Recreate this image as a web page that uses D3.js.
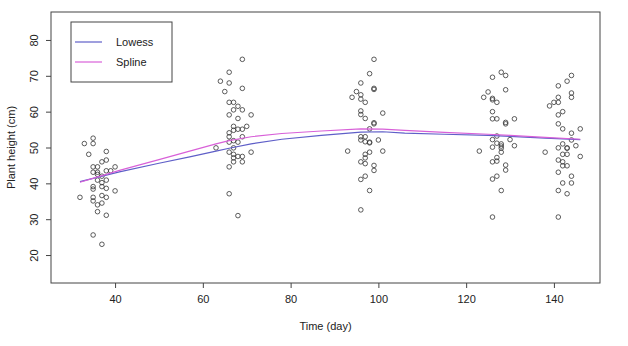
<!DOCTYPE html>
<html>
<head>
<meta charset="utf-8">
<script src="https://cdn.jsdelivr.net/npm/d3@7"></script>
<style>
  body { margin: 0; background: #fff; }
  svg { font-family: "Liberation Sans", Arial, sans-serif; }
</style>
</head>
<body>
<svg width="628" height="346"></svg>
<script>
// plot region (R style box)
const margin = { top: 12, right: 28, bottom: 63, left: 51 };
const width = 628 - margin.left - margin.right;
const height = 346 - margin.top - margin.bottom;

// observed points: day and plant height (cm), per sampling cluster
const days1 = [35, 33, 35, 34, 38, 37, 38, 35, 36, 40, 35, 36, 38, 39, 36, 37, 36, 37, 35, 35, 38, 37, 38, 40, 32, 35, 37, 38, 35, 37, 36, 36, 38, 35, 37];
const height1 = [52.6, 51.1, 51.1, 48.1, 48.9, 46.0, 46.5, 44.6, 44.6, 44.6, 43.1, 43.1, 43.5, 43.5, 42.5, 42.0, 40.9, 40.2, 39.1, 38.4, 40.9, 39.1, 38.6, 37.9, 36.1, 36.1, 36.6, 36.1, 35.1, 34.5, 34.0, 32.1, 31.1, 25.6, 23.0];

const days2 = [69, 66, 64, 66, 65, 69, 66, 67, 68, 67, 69, 66, 71, 68, 67, 70, 67, 68, 69, 66, 66, 69, 67, 66, 68, 63, 67, 66, 71, 67, 68, 69, 67, 67, 69, 66, 66, 68];
const height2 = [74.6, 71.0, 68.5, 68.0, 65.6, 66.5, 62.6, 62.6, 61.5, 60.5, 60.5, 59.1, 59.1, 58.1, 55.9, 55.9, 54.8, 55.1, 55.1, 54.1, 53.0, 53.0, 51.9, 51.5, 51.5, 49.9, 49.9, 48.7, 48.7, 48.1, 47.5, 47.5, 47.1, 46.0, 46.0, 44.6, 37.1, 31.0];

const days3 = [99, 98, 96, 99, 99, 95, 96, 94, 96, 97, 96, 101, 96, 97, 99, 99, 98, 96, 97, 96, 97, 98, 98, 100, 93, 98, 101, 97, 97, 96, 97, 99, 99, 97, 96, 98, 96];
const height3 = [74.6, 70.6, 68.0, 66.5, 66.2, 65.6, 64.7, 64.0, 63.5, 62.6, 60.2, 59.6, 59.2, 58.1, 56.9, 56.6, 55.2, 53.0, 53.0, 52.1, 51.6, 51.5, 51.3, 52.1, 49.0, 48.7, 49.0, 48.1, 47.1, 46.0, 45.5, 45.0, 43.6, 42.0, 41.1, 38.0, 32.6];

const days4 = [128, 129, 126, 129, 125, 124, 126, 126, 127, 126, 126, 127, 129, 129, 131, 127, 126, 130, 127, 128, 128, 128, 126, 131, 123, 128, 127, 126, 127, 129, 129, 127, 126, 128, 126];
const height4 = [71.0, 70.1, 69.6, 66.1, 65.5, 64.0, 63.7, 63.3, 62.6, 60.0, 58.0, 58.0, 57.0, 56.6, 58.0, 53.2, 52.2, 52.2, 51.2, 51.0, 50.4, 49.8, 50.1, 50.5, 49.0, 48.7, 47.2, 46.0, 46.2, 45.1, 43.7, 42.0, 41.2, 38.0, 30.6];

const days5 = [144, 143, 141, 144, 144, 141, 141, 140, 139, 142, 141, 141, 142, 146, 144, 144, 142, 145, 141, 143, 143, 138, 142, 143, 146, 141, 142, 142, 143, 141, 144, 142, 144, 141, 143, 141];
const height5 = [70.1, 68.5, 67.2, 65.2, 64.0, 64.0, 62.6, 62.6, 61.6, 60.0, 59.1, 56.6, 55.2, 55.2, 54.0, 52.1, 51.0, 50.5, 49.9, 49.9, 49.8, 48.7, 48.1, 48.1, 47.5, 46.5, 46.0, 44.9, 44.9, 43.1, 42.0, 40.1, 40.1, 38.0, 37.1, 30.6];

// fitted curves
const fitDays = [32, 41, 50, 57, 63, 66, 71, 78, 87, 96, 101, 106, 115, 125, 130, 138, 146];
const lowess = [40.5, 43.2, 45.6, 47.4, 49.0, 49.8, 51.0, 52.3, 53.4, 54.3, 54.4, 54.0, 53.7, 53.4, 53.1, 52.6, 52.2];
const spline = [40.3, 43.6, 46.6, 49.0, 51.0, 51.9, 53.0, 53.9, 54.6, 55.2, 55.1, 54.8, 54.2, 53.7, 53.4, 52.8, 52.3];

const xTicks = [40, 60, 80, 100, 120, 140];
const yTicks = [20, 30, 40, 50, 60, 70, 80];
const legendNames = ["Lowess", "Spline"];
const lineColors = ["#5f5fc8", "#d860d8"];

const allDays = days1.concat(days2, days3, days4, days5);
const allHeights = height1.concat(height2, height3, height4, height5);
const points = allDays.map((d, i) => ({ day: d, h: allHeights[i] }));

const x = d3.scaleLinear().domain([25.4, 150.5]).range([0, width]);
const y = d3.scaleLinear().domain([12.2, 87.8]).range([height, 0]);

const svg = d3.select('svg');
const chart = svg.append('g')
    .attr('transform', 'translate(' + margin.left + ',' + margin.top + ')');

// points
chart.selectAll('circle.pt')
    .data(points).enter()
    .append('circle')
    .attr('class', 'pt')
    .attr('cx', d => x(d.day))
    .attr('cy', d => y(d.h))
    .attr('r', 2.3)
    .attr('fill', 'none')
    .attr('stroke', '#333')
    .attr('stroke-width', 0.8);

// fitted lines
const line = d3.line().x(d => x(d[0])).y(d => y(d[1]));
[lowess, spline].forEach(function (vals, i) {
    chart.append('path')
        .datum(fitDays.map((d, j) => [d, vals[j]]))
        .attr('fill', 'none')
        .attr('stroke', lineColors[i])
        .attr('stroke-width', 1.2)
        .attr('d', line);
});

// axes
const xAxis = d3.axisBottom(x).tickValues(xTicks).tickSize(5).tickPadding(7);
const yAxis = d3.axisLeft(y).tickValues(yTicks).tickSize(5).tickPadding(6);

const gx = chart.append('g').attr('transform', 'translate(0,' + height + ')').call(xAxis);
const gy = chart.append('g').call(yAxis);
[gx, gy].forEach(function (g) {
    g.select('.domain').remove();
    g.selectAll('line').attr('stroke', '#444');
    g.selectAll('text').attr('fill', '#222').style('font-size', '11px')
        .style('font-family', '"Liberation Sans", Arial, sans-serif');
});
// R draws y labels parallel to the axis
gy.selectAll('text')
    .attr('text-anchor', 'middle')
    .attr('transform', 'translate(-17,0) rotate(-90)')
    .attr('x', 0).attr('y', 0).attr('dy', '0.35em');

// box
chart.append('rect')
    .attr('width', width)
    .attr('height', height)
    .attr('fill', 'none')
    .attr('stroke', '#444')
    .attr('stroke-width', 1);

// axis titles
svg.append('text')
    .attr('x', margin.left + width / 2)
    .attr('y', 330)
    .attr('text-anchor', 'middle')
    .style('font-size', '11px')
    .attr('fill', '#222')
    .text('Time (day)');

svg.append('text')
    .attr('transform', 'translate(15,' + (margin.top + height / 2) + ') rotate(-90)')
    .attr('text-anchor', 'middle')
    .style('font-size', '11px')
    .attr('fill', '#222')
    .text('Plant height (cm)');

// legend
const legend = svg.append('g').attr('transform', 'translate(71,22)');
legend.append('rect')
    .attr('width', 101).attr('height', 60)
    .attr('fill', '#fff').attr('stroke', '#444');
legendNames.forEach(function (name, i) {
    legend.append('line')
        .attr('x1', 4).attr('x2', 31)
        .attr('y1', 20 + i * 20).attr('y2', 20 + i * 20)
        .attr('stroke', lineColors[i]).attr('stroke-width', 1.2);
    legend.append('text')
        .attr('x', 45).attr('y', 20 + i * 20).attr('dy', '0.35em')
        .style('font-size', '11px').attr('fill', '#222')
        .text(name);
});
</script>
</body>
</html>
